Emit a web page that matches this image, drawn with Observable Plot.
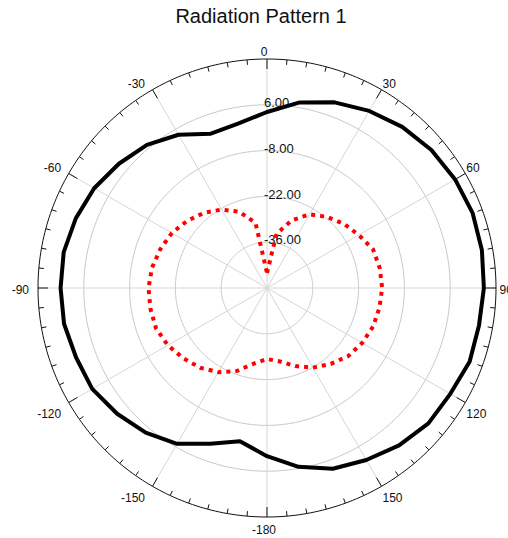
<!DOCTYPE html>
<html>
<head>
<meta charset="utf-8">
<script src="https://cdn.jsdelivr.net/npm/d3@7"></script>
<script src="https://cdn.jsdelivr.net/npm/@observablehq/plot@0.6"></script>
<style>
  html, body { margin: 0; padding: 0; background: #fff; }
  #wrap { position: relative; width: 508px; height: 538px; overflow: hidden; }
  #title { position: absolute; top: 6px; left: 7px; width: 508px; text-align: center;
           font: 20px/20px "Liberation Sans", Arial, sans-serif; color: #111; }
</style>
</head>
<body>
<div id="wrap"><div id="title">Radiation Pattern 1</div></div>
<script>
// ---- data ----
const angles = [0, 10, 20, 30, 40, 50, 60, 70, 80, 90, 100, 110, 120, 130, 140, 150, 160, 170,
                180, 190, 200, 210, 220, 230, 240, 250, 260, 270, 280, 290, 300, 310, 320, 330, 340, 350];
// solid black trace (dB)
const trace1 = [3.8, 7.6, 10.4, 12.5, 14.3, 15.6, 16.4, 16.9, 16.7, 16.3, 15.8, 15.9, 14.7, 14.4, 12.8, 10.7, 8.8, 5.5,
                1.4, -2.4, 0.7, 5.0, 7.7, 9.8, 11.7, 12.1, 13.0, 13.1, 13.1, 12.2, 11.0, 9.1, 7.1, 4.1, 0.2, 1.0];
// dotted red trace (dB)
const trace2 = [-45.4, -33.2, -28.0, -24.0, -21.6, -19.4, -17.6, -15.5, -15.0, -14.8, -15.1, -15.5, -16.4, -17.6, -19.7, -21.9, -24.6, -27.2,
                -28.3, -26.5, -23.0, -20.3, -18.2, -16.6, -15.0, -13.9, -13.8, -13.8, -14.3, -15.3, -16.4, -18.1, -20.0, -22.3, -25.2, -29.8];
const ringValues = [-36, -22, -8, 6];
const ringLabels = ["-36.00", "-22.00", "-8.00", "6.00"];
const rMin = -50, rMax = 20;
const labelAngles = [0, 30, 60, 90, 120, 150, 180, -150, -120, -90, -60, -30];
const labelTexts  = ["0", "30", "60", "90", "120", "150", "-180", "-150", "-120", "-90", "-60", "-30"];

// ---- polar helpers ----
const RPX = 229; // outer radius in px (frame half-size)
const rad = v => (v - rMin) / (rMax - rMin);
const X = (a, r) => r * Math.sin(a * Math.PI / 180);
const Y = (a, r) => r * Math.cos(a * Math.PI / 180);

const s1 = angles.map((a, i) => ({a, r: rad(trace1[i])}));
const s2 = angles.map((a, i) => ({a, r: rad(trace2[i])}));

const circlePts = [];
[...ringValues, rMax].forEach(v => {
  for (let d = 0; d < 360; d += 1) circlePts.push({ring: v, a: d, r: rad(v)});
});
const innerCircles = circlePts.filter(d => d.ring !== rMax);
const outerCircle = circlePts.filter(d => d.ring === rMax);
const spokes = d3.range(0, 360, 30);
const ticks = d3.range(0, 360, 5).map(a => ({a, len: (a % 30 === 0 ? 10 : 5) / RPX}));
const labels = labelAngles.map((a, i) => ({a, t: labelTexts[i]}));
const rings = ringValues.map((v, i) => ({r: rad(v), t: ringLabels[i]}));

const font = "'Liberation Sans', Arial, sans-serif";
const lab = (filter, opts) => Plot.text(labels.filter(filter), {
  x: d => X(d.a, 1), y: d => Y(d.a, 1), text: "t", fontSize: 12, fill: "#111", fontFamily: font, ...opts
});

const chart = Plot.plot({
  width: 508, height: 538,
  marginLeft: 37.5, marginRight: 12.5, marginTop: 58.5, marginBottom: 21.5,
  x: {type: "linear", domain: [-1, 1], axis: null},
  y: {type: "linear", domain: [-1, 1], axis: null},
  style: {fontFamily: font, overflow: "visible", background: "white"},
  marks: [
    Plot.line(innerCircles, {x: d => X(d.a, d.r), y: d => Y(d.a, d.r), z: "ring", curve: "linear-closed", stroke: "#c8c8c8", strokeWidth: 1}),
    Plot.link(spokes, {x1: 0, y1: 0, x2: a => X(a, 1), y2: a => Y(a, 1), stroke: "#d6d6d6", strokeWidth: 1}),
    Plot.line(outerCircle, {x: d => X(d.a, d.r), y: d => Y(d.a, d.r), curve: "linear-closed", stroke: "#111", strokeWidth: 1}),
    Plot.link(ticks, {x1: d => X(d.a, 1), y1: d => Y(d.a, 1), x2: d => X(d.a, 1 - d.len), y2: d => Y(d.a, 1 - d.len), stroke: "#111", strokeWidth: 1}),
    lab(d => d.a === 0, {textAnchor: "middle", lineAnchor: "bottom", dx: -3, dy: -3.5}),
    lab(d => d.a === 180, {textAnchor: "middle", lineAnchor: "top", dx: -3, dy: 8.5}),
    lab(d => d.a === 30 || d.a === 60, {textAnchor: "start", lineAnchor: "bottom", dx: 1, dy: -1.5}),
    lab(d => d.a === 90, {textAnchor: "start", lineAnchor: "middle", dx: 3.5, dy: 2.5}),
    lab(d => d.a === 120 || d.a === 150, {textAnchor: "start", lineAnchor: "top", dx: 1, dy: 7}),
    lab(d => d.a === -30 || d.a === -60, {textAnchor: "end", lineAnchor: "bottom", dx: -7.5, dy: -1.5}),
    lab(d => d.a === -90, {textAnchor: "end", lineAnchor: "middle", dx: -9, dy: 2.5}),
    lab(d => d.a === -120 || d.a === -150, {textAnchor: "end", lineAnchor: "top", dx: -7.5, dy: 7}),
    Plot.text(rings, {x: 0, y: "r", text: "t", textAnchor: "start", lineAnchor: "middle", dx: -3, dy: -2, fontSize: 13, fill: "#111", fontFamily: font}),
    Plot.line(s1, {x: d => X(d.a, d.r), y: d => Y(d.a, d.r), curve: "linear-closed", stroke: "#000", strokeWidth: 4, strokeLinejoin: "miter"}),
    Plot.line(s2, {x: d => X(d.a, d.r), y: d => Y(d.a, d.r), curve: "linear-closed", stroke: "#ff0000", strokeWidth: 4, strokeDasharray: "4,5", strokeLinecap: "butt"})
  ]
});
chart.style.position = "absolute";
chart.style.left = "0px";
chart.style.top = "0px";
const wrap = document.getElementById("wrap");
wrap.insertBefore(chart, wrap.firstChild);
</script>
</body>
</html>
